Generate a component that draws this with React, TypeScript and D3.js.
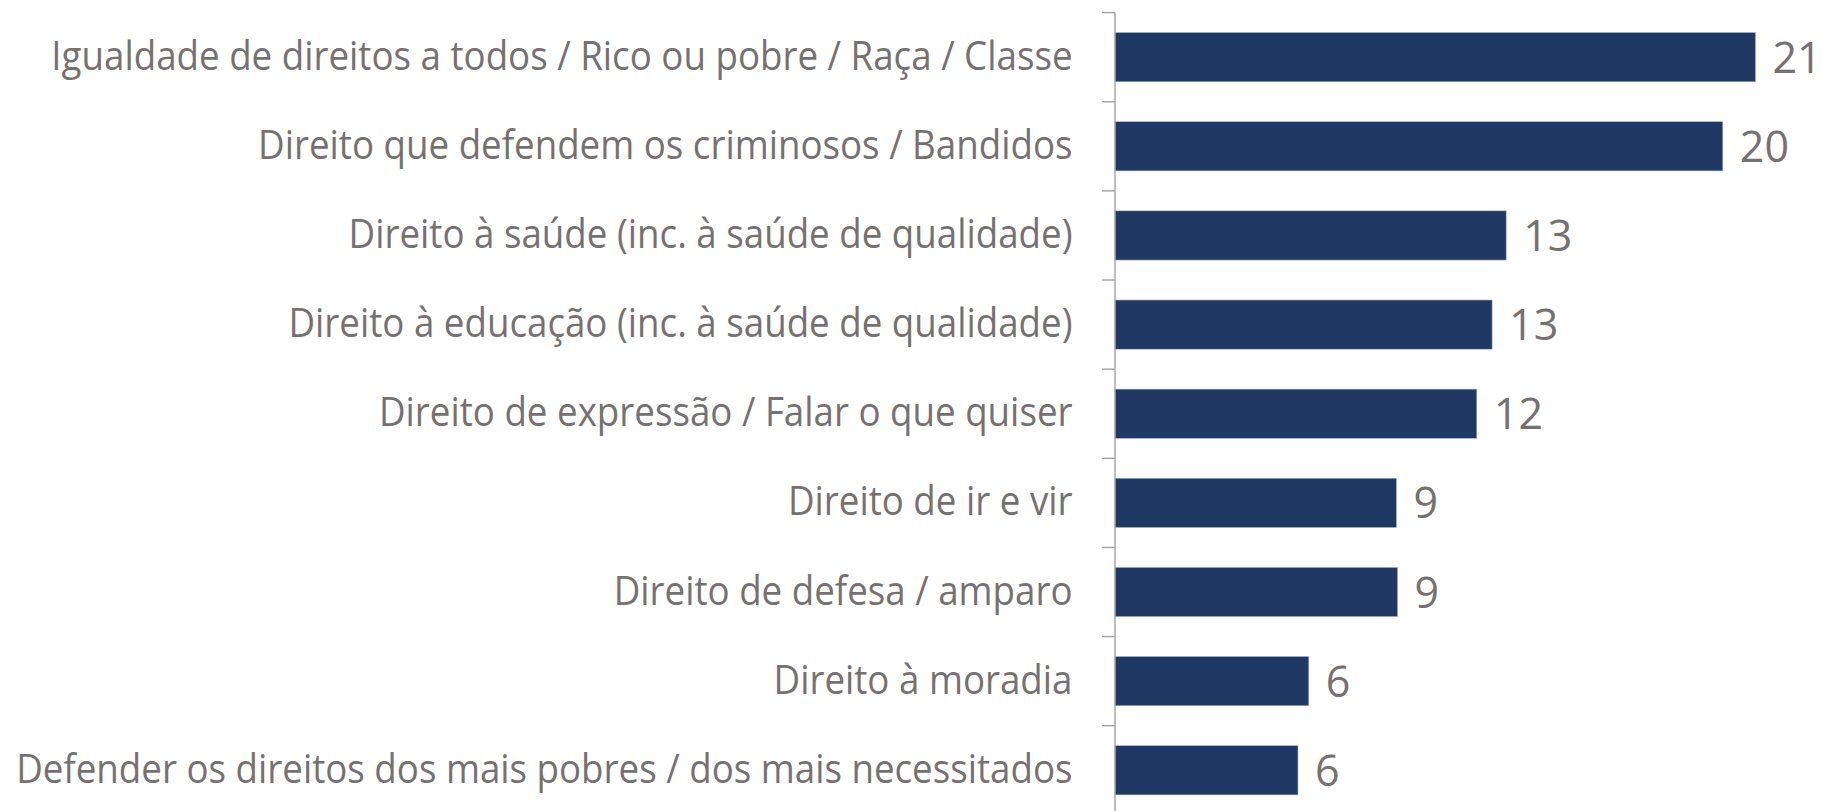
import React, { useLayoutEffect, useRef, useState } from "react";
import * as d3 from "d3";

const categories: string[] = [
  "Igualdade de direitos a todos / Rico ou pobre / Raça / Classe",
  "Direito que defendem os criminosos / Bandidos",
  "Direito à saúde (inc. à saúde de qualidade)",
  "Direito à educação (inc. à saúde de qualidade)",
  "Direito de expressão / Falar o que quiser",
  "Direito de ir e vir",
  "Direito de defesa / amparo",
  "Direito à moradia",
  "Defender os direitos dos mais pobres / dos mais necessitados",
];

const values: number[] = [21.35, 20.26, 13.04, 12.57, 12.06, 9.38, 9.42, 6.46, 6.1];

const labels: string[] = ["21", "20", "13", "13", "12", "9", "9", "6", "6"];

const W = 1823;
const H = 811;
const AXIS_X = 1115;
const TOP = 12.6;
const STEP = 89.14;
const BAR_COLOR = "#203864";
const TEXT_COLOR = "#767171";
const AXIS_COLOR = "#a3a3a3";
const FONT = "'Open Sans', 'Noto Sans', sans-serif";
const LABEL_TARGET_WIDTH = 1057; // width of widest category label

export default function App() {
  const x = d3.scaleLinear().domain([0, 22]).range([AXIS_X, AXIS_X + 22 * 30]);
  const y = d3
    .scaleBand<string>()
    .domain(categories)
    .range([TOP, TOP + STEP * categories.length])
    .paddingInner(0.448)
    .paddingOuter(0.224);
  const bw = y.bandwidth();
  const step = y.step();

  const gRef = useRef<SVGGElement>(null);
  const [sx, setSx] = useState(1);

  useLayoutEffect(() => {
    if (!gRef.current) return;
    const texts = Array.from(gRef.current.querySelectorAll("text")) as SVGTextElement[];
    let maxW = 0;
    texts.forEach((t) => {
      maxW = Math.max(maxW, t.getComputedTextLength());
    });
    if (maxW > 0) {
      const s = LABEL_TARGET_WIDTH / maxW;
      setSx(Math.min(1, s));
    }
  }, []);

  const labelRight = 1072.5;
  const boundaries = d3.range(categories.length + 1).map((i) => TOP + i * step);

  return (
    <svg
      width={W}
      height={H}
      style={{ position: "absolute", left: 0, top: 0, background: "#ffffff" }}
    >
      <g ref={gRef} transform={`translate(${labelRight},0) scale(${sx},1)`}>
        {categories.map((c) => (
          <text
            key={c}
            x={0}
            y={(y(c) as number) + bw / 2 + 12.5}
            textAnchor="end"
            fontFamily={FONT}
            fontSize={40}
            fill={TEXT_COLOR}
          >
            {c}
          </text>
        ))}
      </g>

      {categories.map((c, i) => (
        <rect
          key={c}
          x={x(0)}
          y={y(c) as number}
          width={x(values[i]) - x(0)}
          height={bw}
          fill={BAR_COLOR}
          stroke="#aab4c6"
          strokeWidth={0.6}
        />
      ))}

      {categories.map((c, i) => (
        <text
          key={c + "v"}
          x={x(values[i]) + 17}
          y={(y(c) as number) + bw / 2 + 15.5}
          fontFamily={FONT}
          fontSize={43}
          fill={TEXT_COLOR}
        >
          {labels[i]}
        </text>
      ))}

      <line
        x1={AXIS_X}
        x2={AXIS_X}
        y1={TOP}
        y2={TOP + step * categories.length}
        stroke={AXIS_COLOR}
        strokeWidth={1.4}
      />
      {boundaries.map((b, i) => (
        <line
          key={i}
          x1={AXIS_X - 13}
          x2={AXIS_X}
          y1={b}
          y2={b}
          stroke={AXIS_COLOR}
          strokeWidth={1.4}
        />
      ))}
    </svg>
  );
}
